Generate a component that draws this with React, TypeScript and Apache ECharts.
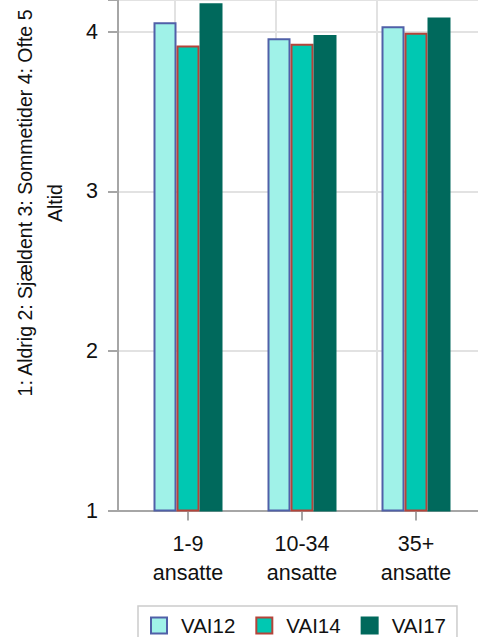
import React, { useEffect, useRef } from "react";
import * as echarts from "echarts";

const categories = ["1-9\nansatte", "10-34\nansatte", "35+\nansatte"];
const seriesNames = ["VAI12", "VAI14", "VAI17"];
const vai12 = [4.06, 3.96, 4.035];
const vai14 = [3.915, 3.925, 3.995];
const vai17 = [4.18, 3.98, 4.09];
const yTicks = [1, 2, 3, 4];
const yTitle = "1: Aldrig 2: Sjældent 3: Sommetider 4: Ofte 5\nAltid";

const FONT = "'Liberation Sans', Arial, sans-serif";

export default function App() {
  const ref = useRef<HTMLDivElement>(null);
  useEffect(() => {
    const chart = echarts.init(ref.current!, null, { renderer: "svg" });
    const yMin = 1;
    const yMax = 4.2;
    const fills = ["#a0f2e8", "#00c8b2", "#00695c"];
    const borders = ["#5060a8", "#b5443a", "#00695c"];
    const data = [vai12, vai14, vai17];
    const gridTop = -1.5;
    const gridH = 512;
    const gray = "#a6a6a6";
    const light = "#e2e2e2";
    chart.setOption({
      animation: false,
      textStyle: { fontFamily: FONT },
      grid: [
        { left: 131, width: 342, top: gridTop, height: gridH },
        { left: 118, right: 0, top: gridTop, height: gridH },
        { left: 74, width: 456, top: gridTop, height: gridH },
      ],
      xAxis: [
        {
          type: "category",
          gridIndex: 0,
          data: categories,
          axisLine: { show: false },
          axisTick: { show: true, alignWithLabel: true, length: 10, lineStyle: { color: gray, width: 2 } },
          splitLine: { show: false },
          axisLabel: { fontSize: 21.5, lineHeight: 29, color: "#111", margin: 19, fontFamily: FONT },
        },
        {
          type: "value",
          gridIndex: 1,
          min: 0,
          max: 1,
          axisLine: { show: true, lineStyle: { color: gray, width: 2 } },
          axisTick: { show: false },
          axisLabel: { show: false },
          splitLine: { show: false },
        },
        {
          type: "value",
          gridIndex: 2,
          min: -1,
          max: 3,
          interval: 1,
          axisLine: { show: false },
          axisTick: { show: false },
          axisLabel: { show: false },
          splitLine: { show: true, showMinLine: false, showMaxLine: false, lineStyle: { color: light, width: 2 } },
        },
      ],
      yAxis: [
        {
          type: "value",
          gridIndex: 0,
          min: yMin,
          max: yMax,
          show: false,
          splitLine: { show: false },
        },
        {
          type: "value",
          gridIndex: 1,
          min: yMin,
          max: yMax,
          interval: 1,
          axisLine: { show: true, lineStyle: { color: gray, width: 2 } },
          axisTick: { show: true, length: 10, lineStyle: { color: gray, width: 2 } },
          axisLabel: {
            fontSize: 21.5,
            color: "#111",
            margin: 20,
            fontFamily: FONT,
            formatter: (v: number) => (yTicks.includes(v) ? String(v) : ""),
          },
          splitLine: { show: true, lineStyle: { color: light, width: 2 } },
        },
        {
          type: "value",
          gridIndex: 2,
          min: yMin,
          max: yMax,
          show: false,
          splitLine: { show: false },
        },
      ],
      legend: {
        left: 138,
        top: 606,
        padding: [9, 11, 9, 12],
        borderColor: "#cccccc",
        borderWidth: 1.5,
        itemWidth: 16,
        itemHeight: 16,
        itemGap: 20,
        icon: "rect",
        textStyle: { fontSize: 20.5, color: "#111", fontFamily: FONT, padding: [0, 0, 0, 9] },
        data: seriesNames,
      },
      series: seriesNames.map((name, i) => ({
        name,
        type: "bar",
        xAxisIndex: 0,
        yAxisIndex: 0,
        data: data[i],
        barWidth: 23,
        barGap: "0%",
        itemStyle: { color: fills[i], borderColor: borders[i], borderWidth: 2 },
      })),
      graphic: [
        {
          type: "text",
          x: 40,
          y: 203,
          rotation: Math.PI / 2,
          style: {
            text: yTitle,
            font: `19.5px ${FONT}`,
            fill: "#111",
            align: "center",
            verticalAlign: "middle",
            lineHeight: 30,
          },
        },
      ],
    });
    return () => chart.dispose();
  }, []);
  return <div ref={ref} style={{ width: 478, height: 637, position: "absolute", left: 0, top: 0 }} />;
}
